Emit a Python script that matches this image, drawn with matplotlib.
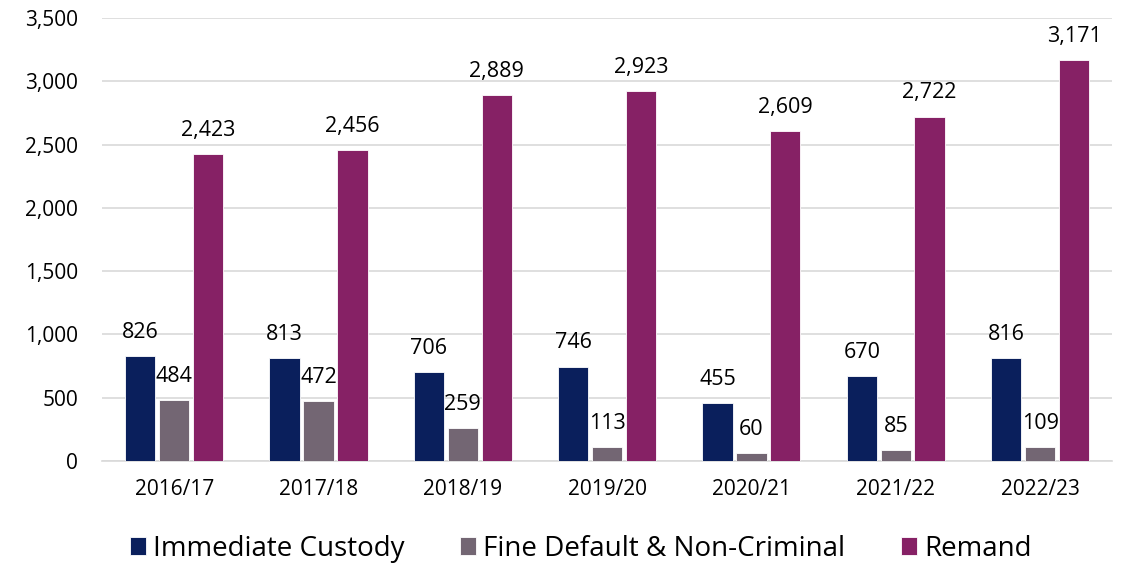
import matplotlib
matplotlib.use("Agg")
import matplotlib.pyplot as plt
import numpy as np
from matplotlib.ticker import FuncFormatter

years = ["2016/17", "2017/18", "2018/19", "2019/20", "2020/21", "2021/22", "2022/23"]
immediate = [826, 813, 706, 746, 455, 670, 816]
fine_default = [484, 472, 259, 113, 60, 85, 109]
remand = [2423, 2456, 2889, 2923, 2609, 2722, 3171]
series_names = ["Immediate Custody", "Fine Default & Non-Criminal", "Remand"]
colors = ["#0A1F5C", "#736673", "#862165"]

plt.rcParams['font.family'] = ['Open Sans', 'DejaVu Sans']

fig = plt.figure(figsize=(11.28, 5.64), dpi=100)
ax = fig.add_axes([0.0904, 0.1826, 0.8956, 0.7854])

x = np.arange(len(years))
w = 0.21
step = 0.235
for i, (vals, name, c) in enumerate(zip([immediate, fine_default, remand], series_names, colors)):
    pos = x + (i - 1) * step
    bars = ax.bar(pos, vals, w, color=c, label=name, edgecolor="white", linewidth=0.6, zorder=3)
    for p, v in zip(pos, vals):
        ax.annotate(f"{v:,}", (p, v), xytext=(0, 17), textcoords="offset points",
                    ha="center", va="center", fontsize=15.5, color="black", zorder=4)

ax.set_xlim(-0.5, len(years) - 0.5)
ax.set_ylim(0, 3500)
ax.set_yticks(np.arange(0, 3501, 500))
ax.yaxis.set_major_formatter(FuncFormatter(lambda v, p: f"{int(v):,}"))
ax.set_xticks(x)
ax.set_xticklabels(years)
ax.grid(axis="y", color="#D9D9D9", linewidth=1.2, zorder=0)
for s in ["top", "right", "left"]:
    ax.spines[s].set_visible(False)
ax.spines["bottom"].set_color("#D9D9D9")
ax.spines["bottom"].set_linewidth(1.2)
ax.tick_params(axis="both", length=0, labelsize=15, colors="black")
ax.tick_params(axis="x", pad=13)
ax.tick_params(axis="y", pad=17)

handles, labels = ax.get_legend_handles_labels()
fig.legend(handles, labels, loc="center", bbox_to_anchor=(0.515, 0.027), ncol=3, frameon=False,
           fontsize=20, handlelength=0.58, handleheight=0.58, handletextpad=0.25, columnspacing=2.0,
           borderaxespad=0)

fig.savefig("out.png", dpi=100)
